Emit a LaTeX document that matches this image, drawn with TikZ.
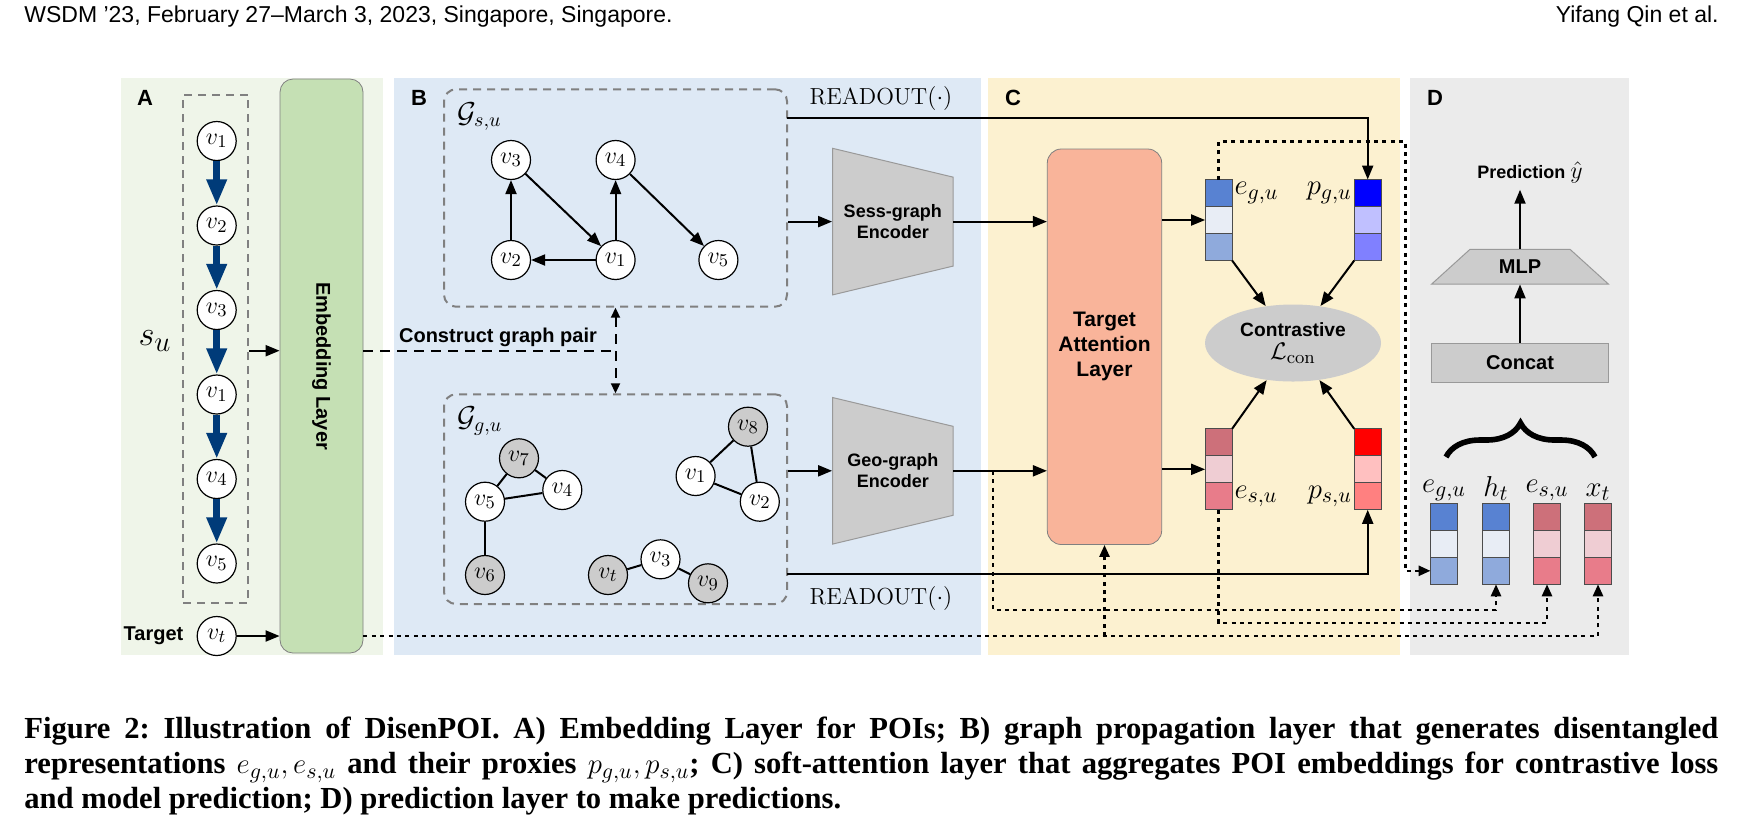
\documentclass[tikz,border=0pt]{standalone}
\usepackage{fontspec}
\newfontfamily\lblfont{Liberation Sans}
\newfontfamily\capfont{Liberation Serif}
\usetikzlibrary{positioning,arrows.meta,shapes.geometric,decorations.pathreplacing}
\definecolor{panelA}{RGB}{239,245,233}
\definecolor{panelB}{RGB}{222,233,245}
\definecolor{panelC}{RGB}{252,241,208}
\definecolor{panelD}{RGB}{235,235,235}
\definecolor{embgreen}{RGB}{197,224,180}
\definecolor{attn}{RGB}{249,180,154}
\definecolor{lgray}{RGB}{204,204,204}
\definecolor{seqblue}{RGB}{0,59,121}
\definecolor{eb1}{RGB}{88,130,210}
\definecolor{eb2}{RGB}{232,237,245}
\definecolor{eb3}{RGB}{143,170,220}
\definecolor{er1}{RGB}{205,112,122}
\definecolor{er2}{RGB}{239,205,211}
\definecolor{er3}{RGB}{232,124,138}
\definecolor{pb1}{RGB}{0,0,255}
\definecolor{pb2}{RGB}{192,192,255}
\definecolor{pb3}{RGB}{128,128,255}
\definecolor{pr1}{RGB}{255,0,0}
\definecolor{pr2}{RGB}{255,192,192}
\definecolor{pr3}{RGB}{255,128,128}
\begin{document}
\begin{tikzpicture}[x=0.5pt, y=-0.5pt,
    vtx/.style={circle, draw, fill=white, minimum size=19.5pt, inner sep=0pt, line width=0.6pt, font=\fontsize{13}{15}\selectfont},
    gvtx/.style={vtx, fill=lgray},
    lbl/.style={font=\lblfont\bfseries\fontsize{10}{12.5}\selectfont},
    panellbl/.style={font=\lblfont\bfseries\fontsize{11}{13}\selectfont},
    arr/.style={line width=1pt, -{Triangle[length=7pt,width=5.5pt]}},
    seqarr/.style={seqblue, line width=3.5pt, -{Triangle[length=13pt,width=9.5pt]}},
    dotarr/.style={line width=1.3pt, dash pattern=on 2pt off 2.2pt, -{Triangle[length=6pt,width=5pt]}},
    cpline/.style={line width=1pt, dash pattern=on 5pt off 3.5pt},
    gbox/.style={draw=gray, line width=1pt, dash pattern=on 4pt off 3pt, inner sep=0pt},
    cell/.style={draw=black!70, line width=0.6pt, minimum size=13.5pt, inner sep=0pt, outer sep=0pt},
    enc/.style={font=\lblfont\bfseries\fontsize{9}{10.3}\selectfont, align=center, minimum width=60.25pt, minimum height=73.3pt, inner sep=0pt},
    mathlbl/.style={font=\fontsize{15}{17}\selectfont, inner sep=1pt},
    readout/.style={font=\fontsize{11.6}{13}\selectfont}
  ]
  \fill[white] (0,0) rectangle (1743,821);
  \useasboundingbox (0,0) rectangle (1743,821);

  \fill[panelA] (120.7,78) rectangle (383,655);
  \fill[panelB] (394,78) rectangle (981,655);
  \fill[panelC] (988,78) rectangle (1400,655);
  \fill[panelD] (1410,78) rectangle (1629,655);
  \node[panellbl] (la) at (145,98) {A};
  \node[panellbl] (lb) at (419,98) {B};
  \node[panellbl] (lc) at (1013,98) {C};
  \node[panellbl] (ld) at (1435,98) {D};

  \node[anchor=west, inner sep=0pt, font=\lblfont\fontsize{11.5}{13}\selectfont] (hd) at (24,17) {WSDM ’23, February 27–March 3, 2023, Singapore, Singapore.};
  \node[anchor=east, inner sep=0pt, font=\lblfont\fontsize{11.5}{13}\selectfont] (au) at (1719,17) {Yifang Qin et al.};
  \node[anchor=north west, inner sep=0pt, text width=847pt, align=justify, font=\capfont\bfseries\fontsize{15.3}{17.5}\selectfont\frenchspacing] (cap) at (24,717) {Figure 2: Illustration of DisenPOI. A) Embedding Layer for POIs; B) graph propagation layer that generates disentangled\linebreak representations $e_{g,u}, e_{s,u}$ and their proxies $p_{g,u}, p_{s,u}$; C) soft-attention layer that aggregates POI embeddings for contrastive loss\linebreak and model prediction; D) prediction layer to make predictions.};

  \node[gbox, minimum width=32.5pt, minimum height=254.25pt] (sq) at (215.8,348.75) {};
  \foreach \i/\v in {1/1,2/2,3/3,4/1,5/4,6/5}
    \node[vtx] (a\i) at (216.7,{141+84.5*(\i-1)}) {$v_{\v}$};
  \foreach \i in {1,...,5} {
    \pgfmathtruncatemacro{\j}{\i+1}
    \draw[seqarr] (a\i) -- (a\j);
  }
  \node[font=\fontsize{19}{21}\selectfont] (su) at (155,341) {$s_u$};
  \node[draw=gray, fill=embgreen, rounded corners=6.5pt, minimum width=41.5pt, minimum height=287pt, inner sep=0pt] (emb) at (321.5,366) {};
  \node[lbl, rotate=-90] (embt) at (emb) {Embedding Layer};
  \coordinate (cp) at (615.5,350.7);
  \draw[arr] (sq.east |- cp) -- (emb.west |- cp);
  \node[lbl] (tg) at (153.5,636) {Target};
  \node[vtx] (vt) at (216.7,636) {$v_t$};
  \draw[arr] (vt) -- (vt -| emb.west);

  \node[gbox, rounded corners=6pt, minimum width=171.5pt, minimum height=108.7pt] (gs) at (615.5,198) {};
  \node[gbox, rounded corners=6pt, minimum width=171.5pt, minimum height=104.85pt] (gg) at (615.5,499.15) {};
  \node[font=\fontsize{14}{16}\selectfont, anchor=west] (gsl) at (450,116.7) {$\mathcal{G}_{s,u}$};
  \node[font=\fontsize{14}{16}\selectfont, anchor=west] (ggl) at (450,421) {$\mathcal{G}_{g,u}$};
  \foreach \i/\x/\y in {1/615.6/260, 2/511/260, 3/511/160, 4/615.6/160, 5/718.4/260}
    \node[vtx] (s\i) at (\x,\y) {$v_{\i}$};
  \foreach \a/\b in {2/3,3/1,1/4,1/2,4/5}
    \draw[arr] (s\a) -- (s\b);
  \foreach \i/\x/\y/\s in {1/695.6/476/vtx, 2/759.8/501.7/vtx, 3/660.5/559.3/vtx, 4/562.3/490/vtx, 5/485/501.7/vtx, 6/485/575/gvtx, 7/519/458.3/gvtx, 8/748/426.7/gvtx, 9/708/583.3/gvtx, t/608/575/gvtx}
    \node[\s] (g\i) at (\x,\y) {$v_{\i}$};
  \foreach \a/\b in {5/7,7/4,5/4,5/6,8/1,8/2,1/2,t/3,3/9}
    \draw[line width=1pt] (g\a) -- (g\b);

  \foreach \n/\y/\t in {se/221.6/Sess-graph, ge/470.8/Geo-graph} {
    \filldraw[fill=lgray, draw=gray!80, line width=0.5pt] (832.5,\y-73.3) -- (953,\y-44.5) -- (953,\y+44.5) -- (832.5,\y+73.3) -- cycle;
    \node[enc] (\n) at (892.75,\y) {\t\\Encoder};
  }
  \draw[arr] (gs.east |- se) -- (se.west);
  \draw[arr] (gg.east |- ge) -- (ge.west);
  \draw[cpline] (emb.east |- cp) -- (cp);
  \draw[cpline, {Triangle[length=5pt,width=4.5pt]}-{Triangle[length=5pt,width=4.5pt]}] (gs.south) -- (gg.north);
  \node[lbl] (cg) at (498,337) {Construct graph pair};
  \coordinate (ro1) at (787,118.3);
  \coordinate (ro2) at (787,574);
  \node[readout] (rd1) at (881,98) {$\mathrm{READOUT}(\cdot)$};
  \node[readout] (rd2) at (881,598) {$\mathrm{READOUT}(\cdot)$};

  \node[draw=gray, fill=attn, rounded corners=7pt, minimum width=57.2pt, minimum height=197.75pt, inner sep=0pt, align=center, font=\lblfont\bfseries\fontsize{10.5}{12.5}\selectfont] (ta) at (1104.5,346.75) {Target\\Attention\\Layer};
  \draw[arr] (se.east) -- (se.east -| ta.west);
  \draw[arr] (ge.east) -- (ge.east -| ta.west);

  \foreach \n/\x/\y/\c in {eg/1218.6/179.5/eb, es/1218.6/428.8/er, pg/1367.7/179.5/pb, ps/1367.7/428.8/pr, dg/1444/503.3/eb, dh/1496/503.3/eb, ds/1547/503.3/er, dx/1598/503.3/er}
    \foreach \k in {1,2,3}
      \node[cell, fill=\c\k] (\n\k) at (\x,\y+27*\k-13.5) {};
  \draw[arr] (ta.east |- eg2) -- (eg2.west);
  \draw[arr] (ta.east |- es2) -- (es2.west);
  \node[mathlbl, right=0pt of eg1] (egl) {$e_{g,u}$};
  \node[mathlbl, left=0pt of pg1] (pgl) {$p_{g,u}$};
  \node[mathlbl, right=0pt of es3] (esl) {$e_{s,u}$};
  \node[mathlbl, left=0pt of ps3] (psl) {$p_{s,u}$};

  \node[ellipse, fill=lgray, minimum width=88pt, minimum height=38.5pt, inner sep=0pt, align=center, font=\fontsize{9.6}{11.5}\selectfont] (cl) at (1293,343) {{\lblfont\bfseries Contrastive}\\{\fontsize{13}{14}\selectfont$\mathcal{L}_{\mathrm{con}}$}};
  \draw[arr] (eg3.south east) -- (cl);
  \draw[arr] (pg3.south west) -- (cl);
  \draw[arr] (es1.north east) -- (cl);
  \draw[arr] (ps1.north west) -- (cl);
  \draw[arr] (ro1) -| (pg1.north);
  \draw[arr] (ro2) -| (ps3.south);

  \coordinate (t1) at (993,470.8);
  \coordinate (ec) at (1405.7,141.7);
  \draw[dotarr] (t1) -- ++(0,139.2) -| (dh3.south);
  \draw[dotarr] (es3.south) -- ++(0,113) -| (ds3.south);
  \draw[dotarr] (emb.east |- vt) -| (dx3.south);
  \draw[dotarr] (ta.south |- vt) -- (ta.south);
  \draw[dotarr] (eg1.north) |- (ec) |- (dg3.west);

  \foreach \n/\t in {dg/{e_{g,u}}, dh/{h_t}, ds/{e_{s,u}}, dx/{x_t}}
    \node[mathlbl, above=0pt of \n1] (l\n) {$\t$};
  \filldraw[fill=lgray, draw=gray!80, line width=0.5pt] (1431.7,284) -- (1470,249.3) -- (1570,249.3) -- (1608.3,284) -- cycle;
  \node[lbl, minimum width=88.3pt, minimum height=17.35pt, inner sep=0pt] (mlp) at (1520,266.65) {MLP};
  \node[lbl, draw=gray!80, fill=lgray, minimum width=88.3pt, minimum height=19.7pt, inner sep=0pt] (cc) at (1520,363) {Concat};
  \node[font=\lblfont\bfseries\fontsize{9}{11}\selectfont] (pred) at (1530,172) {Prediction {\fontsize{13}{14}\selectfont$\hat{y}$}};
  \draw[arr] (cc) -- (mlp);
  \draw[arr] (mlp.north) -- (mlp.north |- pred.south);
  \draw[decorate, decoration={brace, amplitude=17pt}, line width=2.8pt] (1446,457) -- (1595,457);
\end{tikzpicture}
\end{document}
